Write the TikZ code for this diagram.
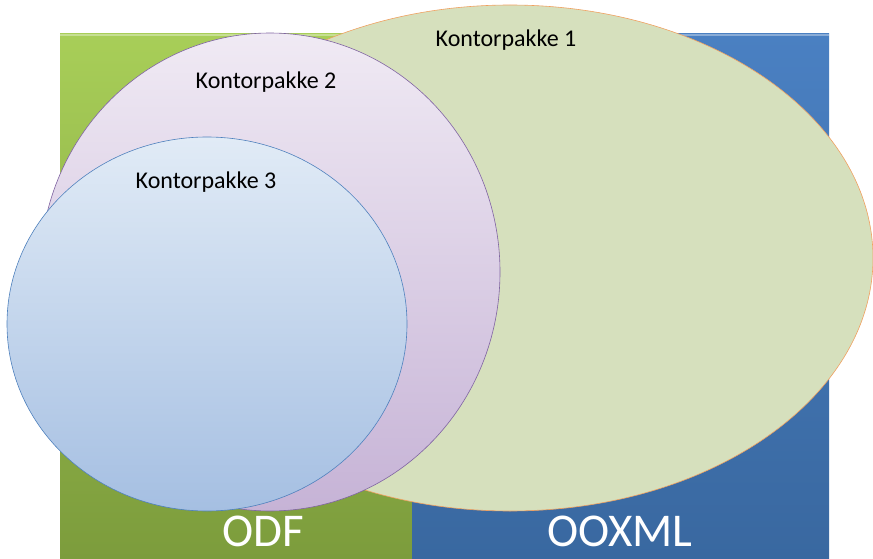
\documentclass[tikz,border=0pt]{standalone}
\usepackage{fontspec}
\setmainfont{Carlito}
\usetikzlibrary{shapes.geometric}
\definecolor{grtop}{HTML}{A8CE58}
\definecolor{grbot}{HTML}{7C9C3C}
\definecolor{bltop}{HTML}{4A80C2}
\definecolor{blbot}{HTML}{3968A0}
\definecolor{olfill}{HTML}{D6E0BD}
\definecolor{olline}{HTML}{F0A060}
\definecolor{putop}{HTML}{F0EAF4}
\definecolor{pubot}{HTML}{C6B3D6}
\definecolor{puline}{HTML}{8064A2}
\definecolor{lbtop}{HTML}{E1EBF6}
\definecolor{lbbot}{HTML}{A5BFE2}
\definecolor{lbline}{HTML}{4F81BD}
\tikzset{
  setlabel/.style={font=\fontsize{24}{28}\selectfont, text=black, inner sep=0pt},
  biglabel/.style={font=\fontsize{47}{54}\selectfont, text=white, inner sep=0pt, anchor=base},
}
\begin{document}
\begin{tikzpicture}[x=1pt,y=-1pt]
\useasboundingbox (0,0) rectangle (873,559);
% format rectangles
\shade[top color=grtop, bottom color=grbot] (60,34) rectangle (412,559);
\shade[top color=bltop, bottom color=blbot] (412,34) rectangle (829,559);
\draw[white, opacity=0.35, line width=1.5pt] (60,35) -- (829,35);
% Kontorpakke 1
\path[fill=olfill, draw=olline, line width=0.6pt] (510,258) ellipse [x radius=363, y radius=253];
% Kontorpakke 2
\path[top color=putop, bottom color=pubot, draw=puline, line width=0.6pt] (270,272) ellipse [x radius=230, y radius=239];
% Kontorpakke 3
\path[top color=lbtop, bottom color=lbbot, draw=lbline, line width=0.6pt] (207,324) ellipse [x radius=200, y radius=187];
% labels
\node[setlabel] (k1) at (506,40) {Kontorpakke 1};
\node[setlabel] (k2) at (266,82) {Kontorpakke 2};
\node[setlabel] (k3) at (206,182) {Kontorpakke 3};
\node[biglabel] (odf) at (263,546) {ODF};
\node[biglabel] (ooxml) at (620,546) {OOXML};
\end{tikzpicture}
\end{document}
